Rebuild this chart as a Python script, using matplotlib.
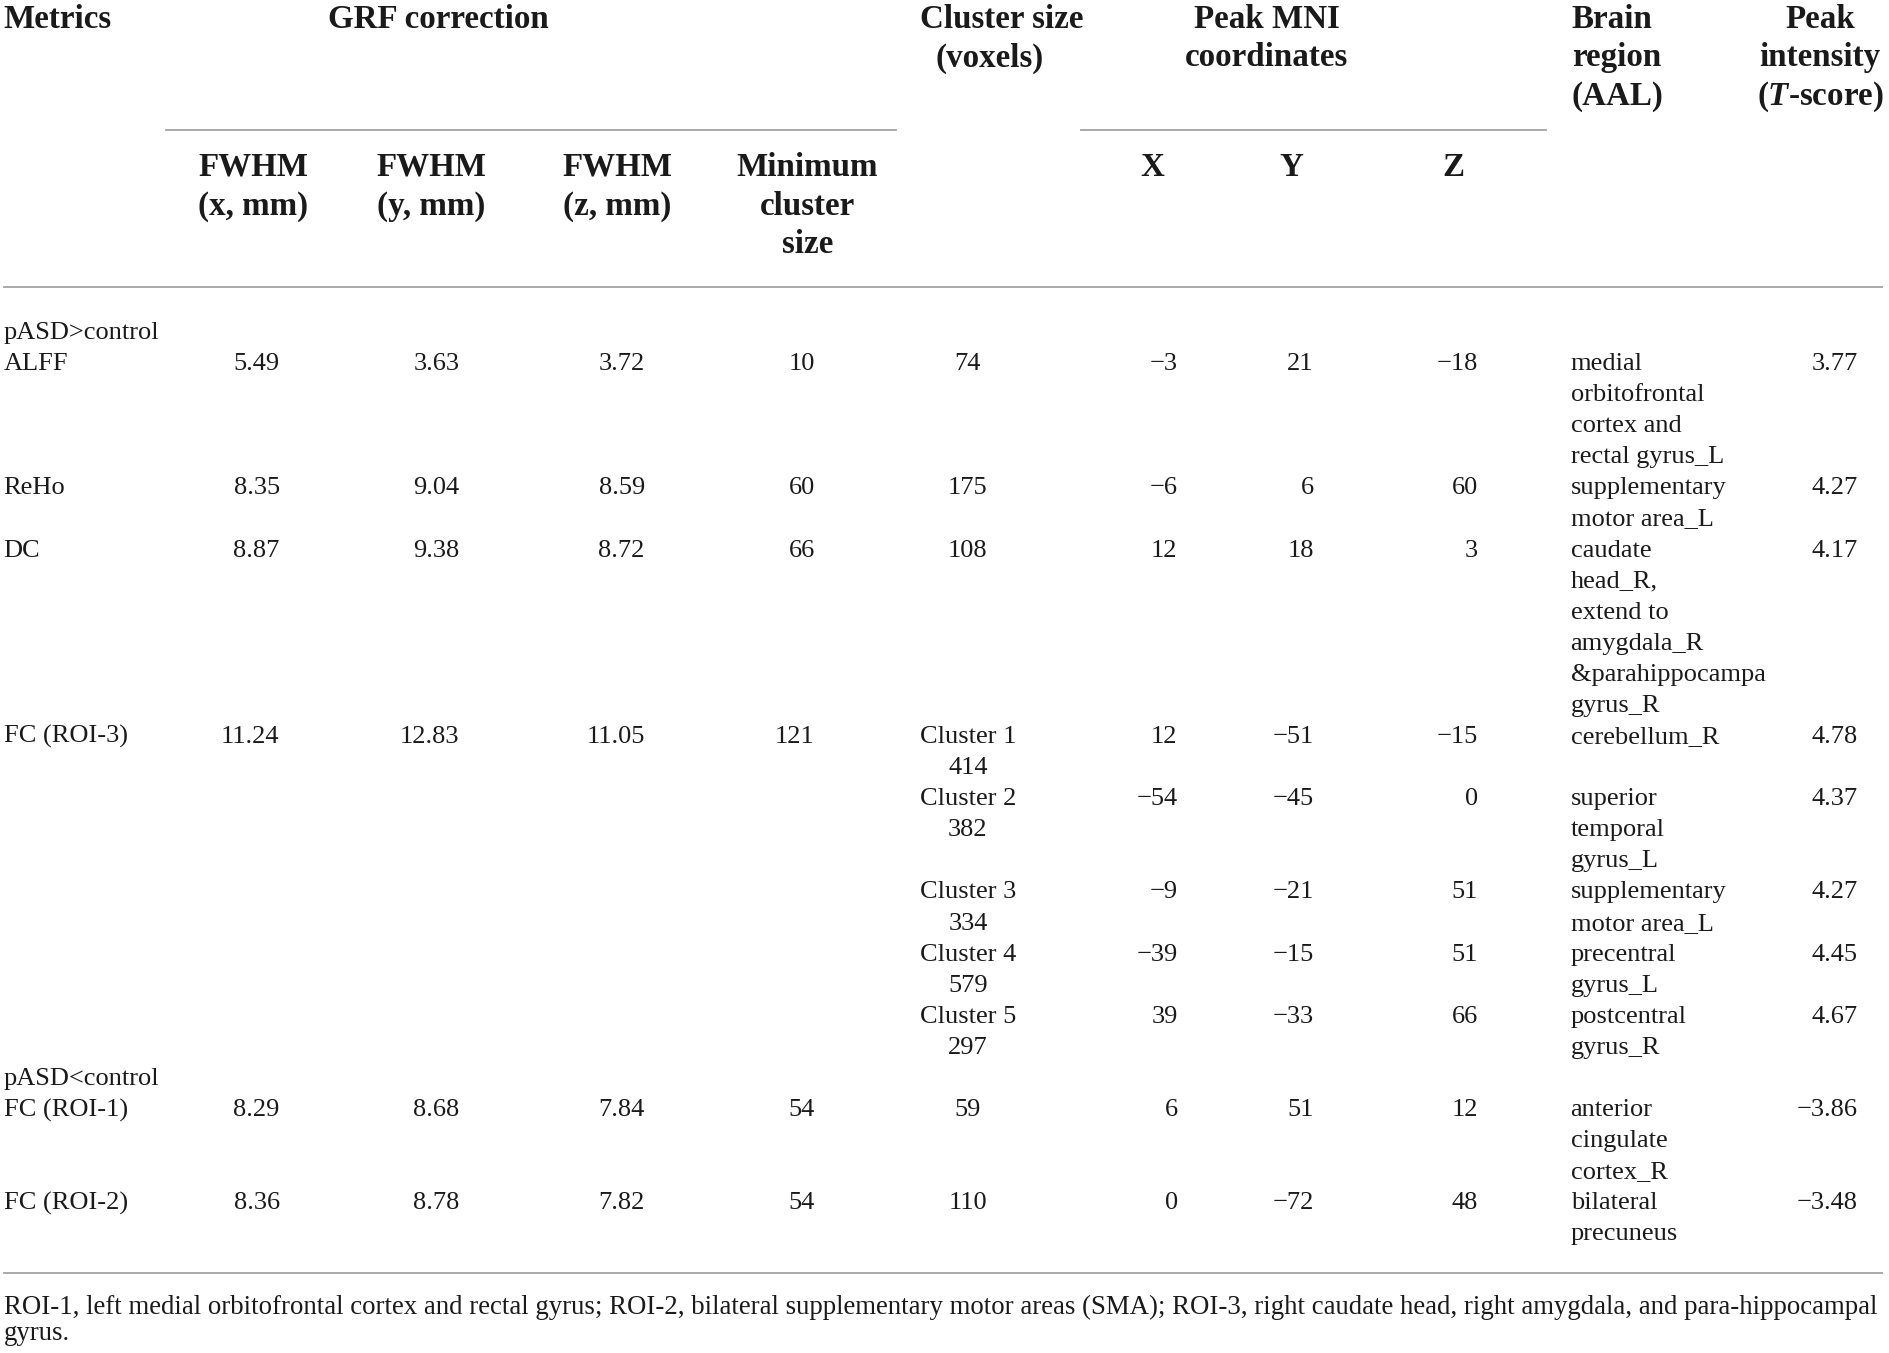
import matplotlib
matplotlib.use("Agg")
import matplotlib.pyplot as plt

# ---- table data ----
metrics = ["ALFF", "ReHo", "DC", "FC (ROI-3)", "FC (ROI-1)", "FC (ROI-2)"]
fwhm_x = ["5.49", "8.35", "8.87", "11.24", "8.29", "8.36"]
fwhm_y = ["3.63", "9.04", "9.38", "12.83", "8.68", "8.78"]
fwhm_z = ["3.72", "8.59", "8.72", "11.05", "7.84", "7.82"]
min_cluster = ["10", "60", "66", "121", "54", "54"]

# one entry per peak row
metric_of_row = [0, 1, 2, 3, None, None, None, None, 4, 5]
cluster_size = ["74", "175", "108", "Cluster 1\n414", "Cluster 2\n382",
                "Cluster 3\n334", "Cluster 4\n579", "Cluster 5\n297", "59", "110"]
peak_x = [-3, -6, 12, 12, -54, -9, -39, 39, 6, 0]
peak_y = [21, 6, 18, -51, -45, -21, -15, -33, 51, -72]
peak_z = [-18, 60, 3, -15, 0, 51, 51, 66, 12, 48]
regions = ["medial\norbitofrontal\ncortex and\nrectal gyrus_L",
           "supplementary\nmotor area_L",
           "caudate\nhead_R,\nextend to\namygdala_R\n&parahippocampa\ngyrus_R",
           "cerebellum_R",
           "superior\ntemporal\ngyrus_L",
           "supplementary\nmotor area_L",
           "precentral\ngyrus_L",
           "postcentral\ngyrus_R",
           "anterior\ncingulate\ncortex_R",
           "bilateral\nprecuneus"]
t_scores = [3.77, 4.27, 4.17, 4.78, 4.37, 4.27, 4.45, 4.67, -3.86, -3.48]
groups = {0: "pASD>control", 8: "pASD<control"}

footnote = ["ROI-1, left medial orbitofrontal cortex and rectal gyrus; ROI-2, bilateral supplementary "
            "motor areas (SMA); ROI-3, right caudate head, right amygdala, and para-hippocampal",
            "gyrus."]

plt.rcParams["font.family"] = ["Liberation Serif", "DejaVu Serif"]
plt.rcParams["mathtext.fontset"] = "custom"
plt.rcParams["mathtext.it"] = "Liberation Serif:italic:bold"
plt.rcParams["mathtext.rm"] = "Liberation Serif:bold"

TXT = "#1a1a1a"
RULE = "#a3a3a3"
BODY = 19
HEAD = 23.8
NOTE = 19.3


def num(v, fmt="{:d}"):
    return fmt.format(v).replace("-", "\u2212")


fig = plt.figure(figsize=(18.9, 13.53), dpi=100)
ax = fig.add_axes([0, 0, 1, 1])
ax.set_xlim(0, 1568)
ax.set_ylim(1122.5, 0)
ax.axis("off")


def put(x, y, s, ha="left", size=BODY, bold=False):
    ax.text(x, y, s, ha=ha, va="baseline", fontsize=size, color=TXT,
            fontweight="bold" if bold else "normal")


def put_lines(x, y0, s, step, ha="left", size=BODY, bold=False):
    for k, line in enumerate(s.split("\n")):
        put(x, y0 + k * step, line, ha=ha, size=size, bold=bold)


# ---- header ----
hb = [23, 55, 87]
hs = 32
put(3, hb[0], "Metrics", size=HEAD, bold=True)
put(364, hb[0], "GRF correction", ha="center", size=HEAD, bold=True)
put(831, hb[0], "Cluster size", ha="center", size=HEAD, bold=True)
put(821, hb[1], "(voxels)", ha="center", size=HEAD, bold=True)
put_lines(1051, hb[0], "Peak MNI\ncoordinates", hs, ha="center", size=HEAD, bold=True)
put_lines(1304, hb[0], "Brain\nregion\n(AAL)", hs, size=HEAD, bold=True)
put_lines(1510, hb[0], "Peak\nintensity\n($\\mathit{T}$-score)", hs, ha="center",
          size=HEAD, bold=True)

sb = 146
put_lines(210, sb, "FWHM\n(x, mm)", hs, ha="center", size=HEAD, bold=True)
put_lines(358, sb, "FWHM\n(y, mm)", hs, ha="center", size=HEAD, bold=True)
put_lines(512, sb, "FWHM\n(z, mm)", hs, ha="center", size=HEAD, bold=True)
put_lines(670, sb, "Minimum\ncluster\nsize", hs, ha="center", size=HEAD, bold=True)
put(956, sb, "X", ha="center", size=HEAD, bold=True)
put(1071, sb, "Y", ha="center", size=HEAD, bold=True)
put(1206, sb, "Z", ha="center", size=HEAD, bold=True)

ax.plot([138, 743], [108, 108], color=RULE, lw=1.3)
ax.plot([897, 1283], [108, 108], color=RULE, lw=1.3)
ax.plot([3, 1561], [237.8, 237.8], color=RULE, lw=1.3)

# ---- body ----
base0 = 281.2
step = 25.79
line = 0
for r in range(len(peak_x)):
    if r in groups:
        put(3, base0 + line * step, groups[r])
        line += 1
    y = base0 + line * step
    m = metric_of_row[r]
    if m is not None:
        put(3, y, metrics[m])
        put(232, y, fwhm_x[m], ha="right")
        put(381, y, fwhm_y[m], ha="right")
        put(535, y, fwhm_z[m], ha="right")
        put(676, y, min_cluster[m], ha="right")
    put_lines(803, y, cluster_size[r], step, ha="center")
    put(977, y, num(peak_x[r]), ha="right")
    put(1090, y, num(peak_y[r]), ha="right")
    put(1226, y, num(peak_z[r]), ha="right")
    put_lines(1303, y, regions[r], step)
    put(1541, y, num(t_scores[r], "{:.2f}"), ha="right")
    line += max(len(cluster_size[r].split("\n")), len(regions[r].split("\n")))

ax.plot([3, 1561], [1055.8, 1055.8], color=RULE, lw=1.3)

# ---- footnote ----
put(3, 1090.5, footnote[0], size=NOTE)
put(3, 1111.5, footnote[1], size=NOTE)

fig.savefig("out.png", dpi=100, facecolor="white")
